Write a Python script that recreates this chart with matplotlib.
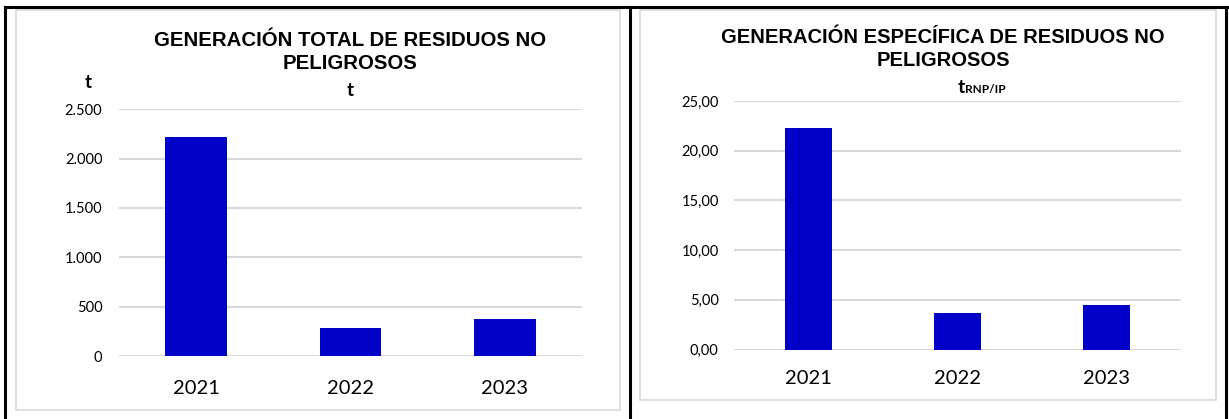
import matplotlib.pyplot as plt
from matplotlib.lines import Line2D
from matplotlib.patches import Rectangle
from matplotlib.ticker import FuncFormatter

# data
years = ['2021', '2022', '2023']
total_t = [2224, 281, 375]
especifica_t = [22.28, 3.69, 4.50]
total_ticks = [0, 500, 1000, 1500, 2000, 2500]
esp_ticks = [0, 5, 10, 15, 20, 25]

W, H = 1229, 419
fig = plt.figure(figsize=(W / 100, H / 100), dpi=100)
fig.patch.set_facecolor('white')

bar_color = '#0000c8'
grid_color = '#d9d9d9'
num_font = 'Lato'
title_font = 'Liberation Sans'


def px(x, y):
    # pixel coords (top-left origin) -> figure fraction
    return x / W, 1 - y / H


def box(x0, y0, x1, y1):
    return [x0 / W, 1 - y1 / H, (x1 - x0) / W, (y1 - y0) / H]


# table borders
for (xa, ya, xb, yb) in [(5, 7, 1227, 7), (5, 7, 5, 419), (630, 7, 630, 419), (1226, 7, 1226, 419)]:
    (fa, ga), (fb, gb) = px(xa, ya), px(xb, yb)
    fig.add_artist(Line2D([fa, fb], [ga, gb], color='black', lw=2.2))

# chart frames
for (x0, y0, x1, y1) in [(16, 10, 620, 410), (640, 10, 1216, 400)]:
    fig.add_artist(Rectangle((x0 / W, 1 - y1 / H), (x1 - x0) / W, (y1 - y0) / H,
                             fill=False, edgecolor=grid_color, lw=1.2))


def style(ax, ticks, fmt, pad_y, pad_x):
    ax.set_ylim(ticks[0], ticks[-1])
    ax.set_yticks(ticks)
    ax.yaxis.set_major_formatter(FuncFormatter(fmt))
    ax.set_xlim(-0.5, 2.5)
    ax.set_xticks(range(3))
    ax.set_xticklabels(years)
    for s in ax.spines.values():
        s.set_visible(False)
    ax.grid(axis='y', color=grid_color, lw=1.5)
    ax.set_axisbelow(True)
    ax.tick_params(axis='y', length=0, pad=pad_y, labelsize=10.5)
    ax.tick_params(axis='x', length=0, pad=pad_x, labelsize=14.5)
    for lab in ax.get_xticklabels() + ax.get_yticklabels():
        lab.set_fontfamily(num_font)


# left chart
ax1 = fig.add_axes(box(119, 109.3, 582, 356))
ax1.bar(range(3), total_t, width=0.40, color=bar_color, zorder=3)
style(ax1, total_ticks, lambda v, p: f'{int(v):,}'.replace(',', '.'), 12, 17)

x, y = px(350, 52)
fig.text(x, y, 'GENERACIÓN TOTAL DE RESIDUOS NO\nPELIGROSOS', ha='center', va='center',
         fontsize=14.7, fontweight='bold', fontfamily=title_font, linespacing=1.25)
x, y = px(350, 90)
fig.text(x, y, 't', ha='center', va='center', fontsize=13.5, fontweight='bold', fontfamily=num_font)
x, y = px(88, 82)
fig.text(x, y, 't', ha='center', va='center', fontsize=13.5, fontweight='bold', fontfamily=num_font)

# right chart
ax2 = fig.add_axes(box(734, 101, 1181, 349.6))
ax2.bar(range(3), especifica_t, width=0.315, color=bar_color, zorder=3)
style(ax2, esp_ticks, lambda v, p: f'{v:.2f}'.replace('.', ','), 11, 15)

x, y = px(943, 49)
fig.text(x, y, 'GENERACIÓN ESPECÍFICA DE RESIDUOS NO\nPELIGROSOS', ha='center', va='center',
         fontsize=14.5, fontweight='bold', fontfamily=title_font, linespacing=1.25)
x, y = px(965, 93)
fig.text(x, y, 't', ha='right', va='baseline', fontsize=14, fontweight='bold', fontfamily=num_font)
fig.text(x, y, 'RNP/IP', ha='left', va='baseline', fontsize=8.5, fontweight='bold', fontfamily=num_font)

fig.savefig('out.png', dpi=100)
